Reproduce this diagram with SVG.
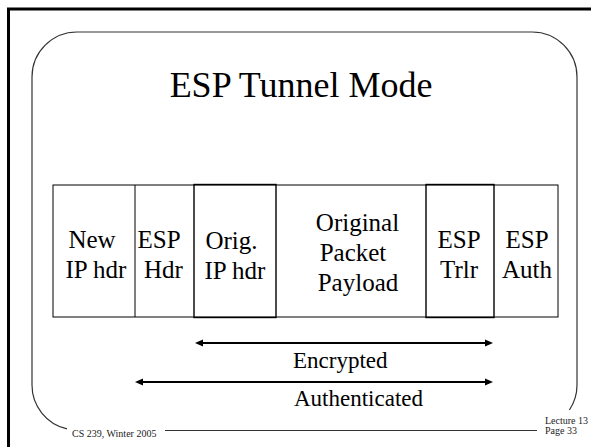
<svg xmlns="http://www.w3.org/2000/svg" width="591" height="447" viewBox="0 0 591 447" font-family="'Liberation Serif', 'Times New Roman', Times, serif">
  <style>
    text { font-family: 'Liberation Serif', 'Times New Roman', Times, serif; fill: #000; }
    .cell { font-size: 25px; text-anchor: middle; }
    .label { font-size: 23px; }
    .foot { font-size: 10px; fill: #222; }
    .box { fill: none; stroke: #000; stroke-width: 1; }
    .boxhi { fill: none; stroke: #000; stroke-width: 1.4; }
    .frame { fill: none; stroke: #333; stroke-width: 1.2; }
    .span { stroke: #000; stroke-width: 2; fill: none; }
  </style>
  <defs>
    <marker id="head" markerUnits="userSpaceOnUse" markerWidth="10" markerHeight="10" viewBox="0 -5 10 10" refX="0" refY="0" orient="auto-start-reverse">
      <path d="M0,-3.5 L8,0 L0,3.5 z" fill="#000"/>
    </marker>
  </defs>

  <rect width="591" height="447" fill="#fff"/>

  <!-- slide border -->
  <path d="M8.5,447 V9 H591" fill="none" stroke="#000" stroke-width="3"/>

  <!-- rounded frame, opened at the bottom for the footer texts -->
  <path class="frame" d="M67,428.9 A45,45 0 0 1 32,385 V77 A45,45 0 0 1 77,32 H532 A45,45 0 0 1 577,77 V385 A45,45 0 0 1 569.4,410"/>
  <line class="frame" x1="165" y1="430.5" x2="537" y2="430.5"/>

  <g id="title">
    <text x="301" y="97" font-size="36" text-anchor="middle">ESP Tunnel Mode</text>
  </g>

  <!-- packet fields -->
  <g id="packet">
    <rect class="box" x="53" y="185" width="505" height="132"/>
  </g>
  <g id="new-ip-hdr">
    <text class="cell" x="92" y="248">New</text>
    <text class="cell" x="96" y="278">IP hdr</text>
  </g>
  <g id="esp-hdr">
    <line class="box" x1="135" y1="185" x2="135" y2="317"/>
    <text class="cell" x="159" y="248">ESP</text>
    <text class="cell" x="163.5" y="278">Hdr</text>
  </g>
  <g id="orig-ip-hdr">
    <rect class="boxhi" x="194" y="184.5" width="82" height="133"/>
    <text class="cell" x="231.5" y="249">Orig.</text>
    <text class="cell" x="235" y="279">IP hdr</text>
  </g>
  <g id="payload">
    <text class="cell" x="357.5" y="231">Original</text>
    <text class="cell" x="353" y="261">Packet</text>
    <text class="cell" x="358" y="291">Payload</text>
  </g>
  <g id="esp-trlr">
    <rect class="boxhi" x="426" y="184.5" width="68" height="133"/>
    <text class="cell" x="459" y="248">ESP</text>
    <text class="cell" x="459" y="278">Trlr</text>
  </g>
  <g id="esp-auth">
    <text class="cell" x="527" y="248">ESP</text>
    <text class="cell" x="527" y="278">Auth</text>
  </g>

  <!-- coverage spans -->
  <g id="connectors">
    <line class="span" x1="203" y1="343" x2="485" y2="343" marker-start="url(#head)" marker-end="url(#head)"/>
    <line class="span" x1="143" y1="382" x2="485" y2="382" marker-start="url(#head)" marker-end="url(#head)"/>
  </g>
  <g id="encrypted">
    <text class="label" x="293" y="368">Encrypted</text>
  </g>
  <g id="authenticated">
    <text class="label" x="294" y="406">Authenticated</text>
  </g>

  <!-- footer -->
  <g id="footer">
    <text class="foot" x="72" y="437">CS 239, Winter 2005</text>
    <text class="foot" x="545" y="424" font-size="9">Lecture 13</text>
    <text class="foot" x="545" y="434" font-size="9">Page 33</text>
  </g>
</svg>
